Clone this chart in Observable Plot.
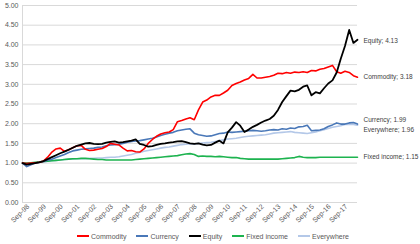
<!DOCTYPE html>
<html>
<head>
<meta charset="utf-8">
<script src="https://cdn.jsdelivr.net/npm/d3@7"></script>
<script src="https://cdn.jsdelivr.net/npm/@observablehq/plot@0.6"></script>
<style>
  html, body { margin: 0; padding: 0; background: #fff; }
  body { width: 420px; height: 244px; overflow: hidden; font-family: "Liberation Sans", Arial, sans-serif; }
  #legend { display: flex; justify-content: center; align-items: center; gap: 10px; height: 16px; font-size: 7px; color: #595959; margin-left: 6px; }
  #legend .item { display: flex; align-items: center; gap: 2px; }
  #legend .sw { width: 12px; height: 2px; display: inline-block; }
</style>
</head>
<body>
<div id="chart"></div>
<div id="legend"></div>
<script>
// Quarterly observations, May 1998 to May 2018
const startDate = new Date(Date.UTC(1998, 4, 1));
const stepMonths = 3;

const seriesNames = ["Commodity", "Currency", "Equity", "Fixed income", "Everywhere"];
const seriesColors = ["#ff0000", "#4a78b8", "#000000", "#1db34f", "#b4c8e8"];

const commodity = [1.00,0.99,1.00,1.01,1.02,1.05,1.15,1.28,1.36,1.38,1.30,1.34,1.39,1.44,1.45,1.35,1.32,1.33,1.35,1.37,
  1.42,1.50,1.48,1.46,1.38,1.31,1.32,1.29,1.28,1.36,1.50,1.60,1.68,1.74,1.77,1.79,1.85,2.05,2.08,2.12,
  2.15,2.10,2.35,2.55,2.60,2.68,2.72,2.72,2.78,2.85,2.97,3.02,3.06,3.11,3.15,3.25,3.16,3.16,3.18,3.20,
  3.23,3.28,3.27,3.30,3.28,3.31,3.30,3.32,3.30,3.35,3.34,3.38,3.40,3.44,3.48,3.32,3.28,3.33,3.30,3.22,3.18];
const currency = [1.00,0.91,0.96,1.00,1.02,1.04,1.07,1.10,1.14,1.18,1.22,1.27,1.31,1.33,1.35,1.36,1.37,1.38,1.40,1.41,
  1.44,1.46,1.47,1.48,1.50,1.53,1.55,1.56,1.57,1.59,1.61,1.63,1.66,1.70,1.73,1.76,1.78,1.82,1.84,1.86,
  1.87,1.76,1.72,1.70,1.68,1.69,1.72,1.75,1.76,1.79,1.78,1.79,1.80,1.81,1.82,1.83,1.82,1.81,1.82,1.84,
  1.85,1.84,1.87,1.86,1.89,1.88,1.92,1.93,1.96,1.82,1.83,1.84,1.87,1.93,1.97,2.02,1.99,1.99,2.02,2.03,1.99];
const equity = [1.00,0.96,0.98,1.00,1.02,1.05,1.10,1.15,1.20,1.25,1.29,1.34,1.39,1.44,1.47,1.50,1.51,1.49,1.48,1.49,
  1.52,1.54,1.55,1.52,1.53,1.55,1.57,1.60,1.49,1.46,1.42,1.43,1.46,1.49,1.50,1.52,1.53,1.55,1.56,1.53,
  1.50,1.49,1.50,1.47,1.45,1.46,1.52,1.57,1.50,1.78,1.90,2.04,1.95,1.79,1.85,1.92,1.97,2.03,2.08,2.12,
  2.20,2.35,2.55,2.70,2.84,2.82,2.86,2.94,2.97,2.72,2.80,2.77,2.90,3.02,3.10,3.30,3.65,3.97,4.38,4.05,4.13];
const fixedIncome = [1.00,1.00,1.01,1.02,1.03,1.04,1.05,1.06,1.07,1.08,1.09,1.10,1.11,1.11,1.12,1.12,1.11,1.10,1.09,1.09,
  1.08,1.08,1.08,1.08,1.08,1.08,1.08,1.09,1.10,1.11,1.12,1.13,1.14,1.15,1.16,1.17,1.18,1.19,1.21,1.23,
  1.24,1.22,1.17,1.18,1.17,1.17,1.16,1.17,1.16,1.15,1.14,1.14,1.12,1.11,1.10,1.10,1.10,1.10,1.10,1.10,
  1.10,1.10,1.11,1.12,1.13,1.14,1.17,1.15,1.14,1.14,1.14,1.15,1.15,1.15,1.15,1.15,1.15,1.15,1.15,1.15,1.15];
const everywhere = [1.00,0.99,1.00,1.01,1.02,1.03,1.05,1.06,1.07,1.08,1.09,1.10,1.10,1.11,1.11,1.11,1.12,1.12,1.13,1.13,
  1.14,1.15,1.15,1.16,1.18,1.20,1.22,1.25,1.27,1.30,1.32,1.34,1.36,1.38,1.40,1.41,1.43,1.45,1.47,1.48,
  1.49,1.48,1.50,1.51,1.52,1.53,1.55,1.57,1.59,1.61,1.62,1.63,1.65,1.67,1.68,1.69,1.70,1.71,1.72,1.74,
  1.76,1.77,1.78,1.79,1.80,1.78,1.77,1.76,1.75,1.77,1.79,1.82,1.85,1.88,1.91,1.93,1.95,1.98,1.99,1.98,1.96];

const endLabels = ["Commodity; 3.18", "Currency; 1.99", "Equity; 4.13", "Fixed income; 1.15", "Everywhere; 1.96"];
const tickYears = d3.range(1998, 2018);
const yTicks = [0, 0.5, 1, 1.5, 2, 2.5, 3, 3.5, 4, 4.5, 5];

const allValues = [commodity, currency, equity, fixedIncome, everywhere];
const dates = commodity.map((_, i) => d3.utcMonth.offset(startDate, i * stepMonths));
const rows = [];
seriesNames.forEach((name, s) => allValues[s].forEach((v, i) => rows.push({series: name, date: dates[i], value: v})));
const last = seriesNames.map((name, s) => ({series: name, date: dates[dates.length - 1], value: allValues[s][allValues[s].length - 1], label: endLabels[s]}));
const xTicks = tickYears.map(y => new Date(Date.UTC(y, 8, 1)));
const fmt = d3.utcFormat("%b-%y");
const labelDy = {"Commodity": 0, "Currency": -4, "Equity": 1, "Fixed income": 0, "Everywhere": 5};

const drawOrder = ["Everywhere", "Fixed income", "Currency", "Commodity", "Equity"];

const chart = Plot.plot({
  width: 420,
  height: 228,
  marginLeft: 22,
  marginRight: 63,
  marginTop: 5,
  marginBottom: 26,
  style: {fontFamily: "Liberation Sans, Arial, sans-serif", fontSize: "7px", color: "#595959", background: "#fff"},
  x: {type: "utc", domain: [dates[0], dates[dates.length - 1]], label: null},
  y: {domain: [0, 5], label: null},
  color: {domain: seriesNames, range: seriesColors},
  marks: [
    Plot.gridY(yTicks, {stroke: "#d9d9d9", strokeOpacity: 1, strokeWidth: 1}),
    Plot.ruleX([dates[0]], {stroke: "#d9d9d9", strokeWidth: 1}),
    Plot.ruleY([0], {stroke: "#d9d9d9", strokeWidth: 1}),
    Plot.axisY(yTicks, {tickFormat: d3.format(".2f"), tickSize: 0, tickPadding: 4, fill: "#595959", fontSize: 7, label: null}),
    Plot.axisX(xTicks, {tickFormat: fmt, tickRotate: -45, tickSize: 0, tickPadding: 3, fill: "#595959", fontSize: 7, label: null}),
    ...drawOrder.map(name => Plot.line(rows.filter(r => r.series === name), {
      x: "date", y: "value", stroke: "series", strokeWidth: name === "Equity" ? 1.8 : 1.6, strokeLinejoin: "round"
    })),
    ...last.map(d => Plot.text([d], {
      x: "date", y: "value", text: "label", textAnchor: "start", dx: 6, dy: labelDy[d.series],
      fill: "#404040", fontSize: 6.5
    }))
  ]
});
document.getElementById("chart").appendChild(chart);

const legend = document.getElementById("legend");
seriesNames.forEach((name, i) => {
  const item = document.createElement("div");
  item.className = "item";
  item.innerHTML = `<span class="sw" style="background:${seriesColors[i]}"></span><span>${name}</span>`;
  legend.appendChild(item);
});
</script>
</body>
</html>
